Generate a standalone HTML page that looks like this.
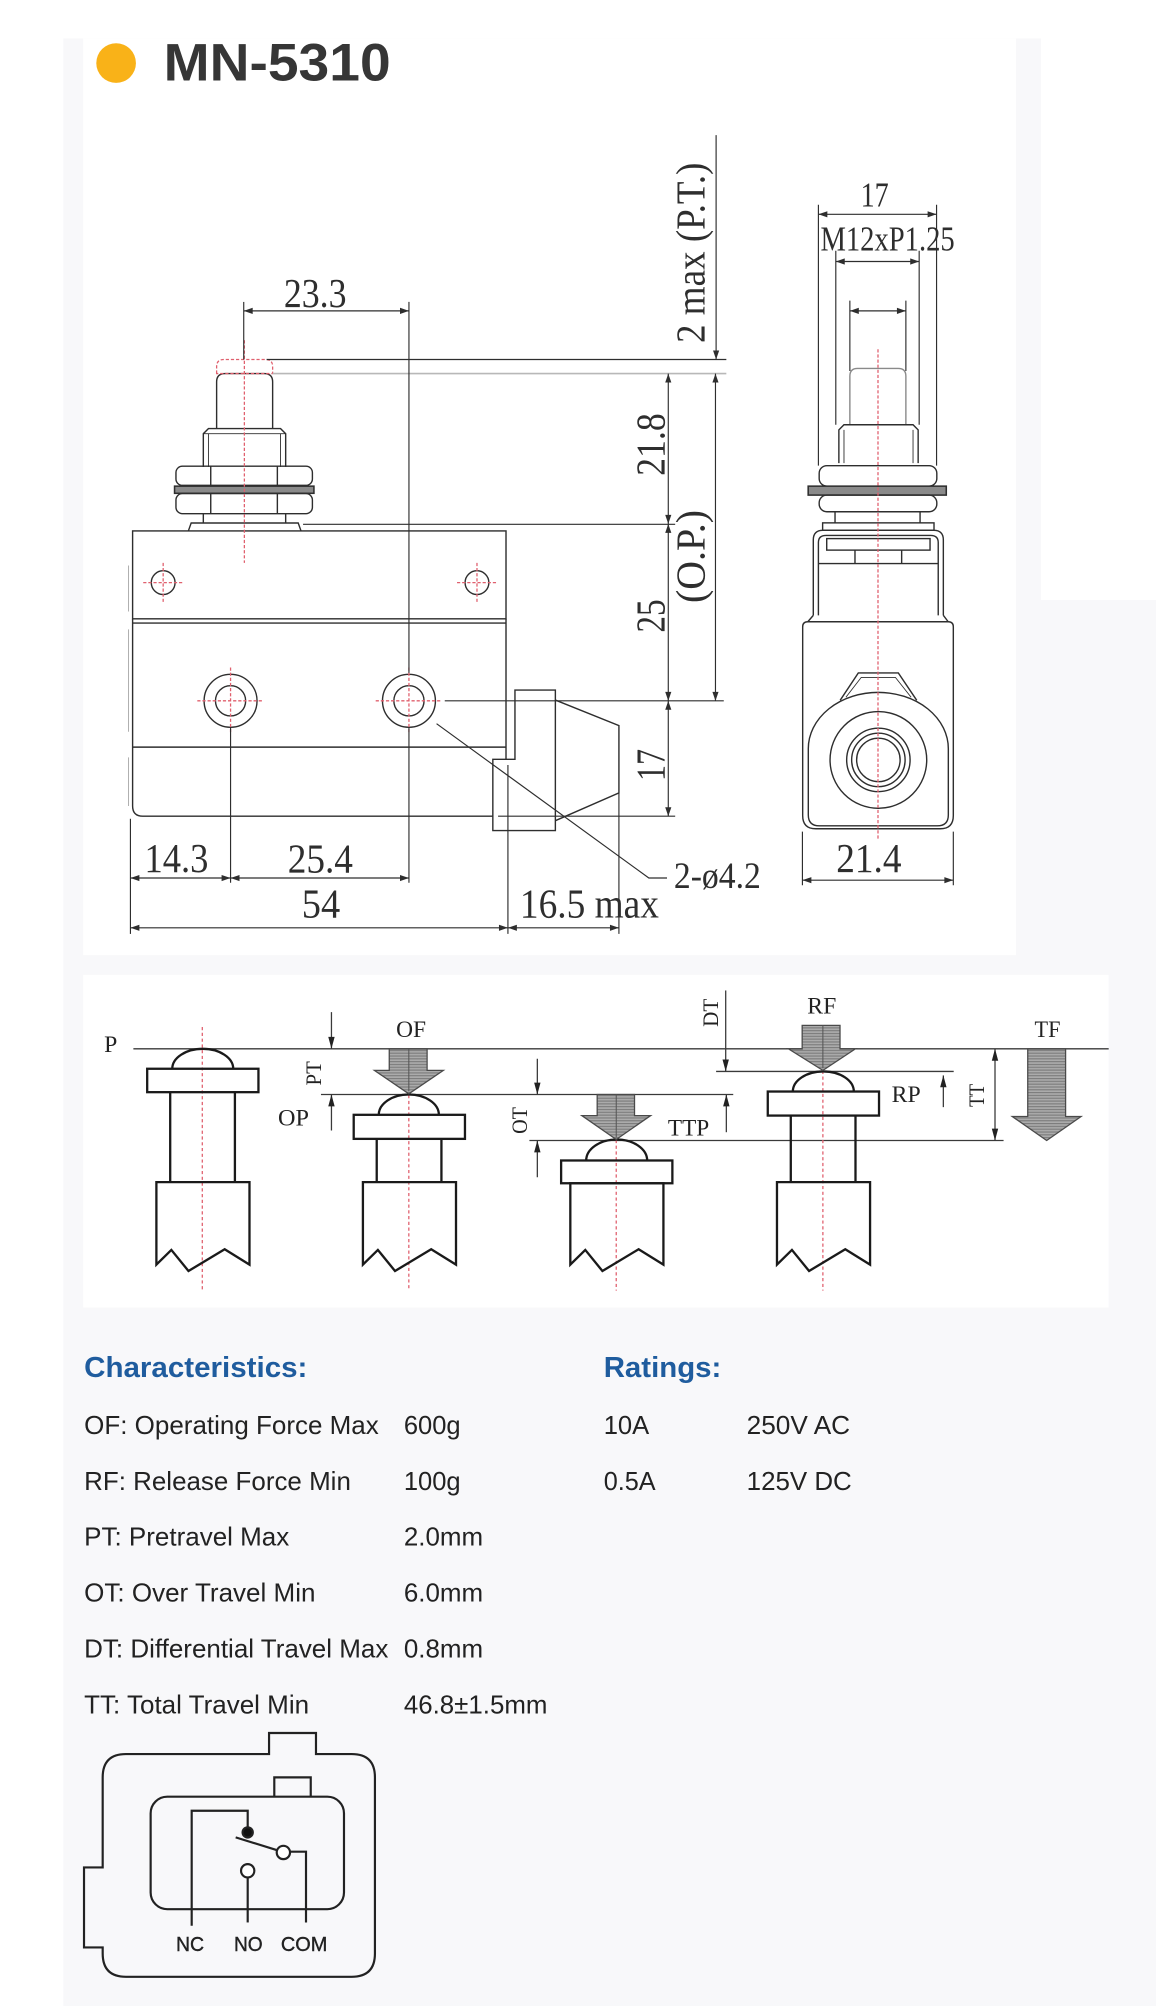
<!DOCTYPE html>
<html><head><meta charset="utf-8">
<style>
html,body{margin:0;padding:0;background:#fff;}
svg{display:block;}
</style></head>
<body>
<svg width="1156" height="2006" viewBox="0 0 904 1568" preserveAspectRatio="none" xmlns="http://www.w3.org/2000/svg">
<defs>
<pattern id="hatch" width="4" height="2.2" patternUnits="userSpaceOnUse">
<rect width="4" height="2.2" fill="#ababab"/>
<rect width="4" height="0.9" fill="#7c7c7c"/>
</pattern>
</defs>

<!-- backgrounds -->
<rect width="904" height="1568" fill="#fff"/>
<rect x="49.5" y="30" width="854.5" height="1538" fill="#f8f8fa"/>
<rect x="814" y="0" width="90" height="469" fill="#fff"/>
<rect x="65" y="30" width="729.5" height="716.6" fill="#fff"/>
<rect x="65" y="762" width="802" height="260" fill="#fff"/>

<!-- header -->
<circle cx="90.8" cy="49.3" r="15.5" fill="#f9b218"/>
<text x="128" y="62.8" font-family="Liberation Sans, Arial, sans-serif" font-weight="bold" font-size="41" fill="#363636" textLength="177.5" lengthAdjust="spacingAndGlyphs">MN-5310</text>

<!-- ============ MAIN FRONT VIEW ============ -->
<g stroke="#2e2e2e" stroke-width="1.1" fill="none">
  <!-- plunger -->
  <path d="M169.4,335 V298.5 Q169.4,292 176,292 H206.6 Q213.2,292 213.2,298.5 V335"/>
  <path d="M159,365 V339 L163,335 H219.4 L223.4,339 V365"/>
  <path d="M163,339 V365 M219.4,339 V365 M159,339 H223.4" stroke-width="0.7"/>
  <rect x="137.6" y="364.4" width="106.7" height="15" rx="5"/>
  <path d="M164.8,364.4 V379.3 M216.9,364.4 V379.3"/>
  <rect x="136.5" y="380" width="109" height="5.6" fill="#8a8a8a" stroke-width="1.2"/>
  <rect x="137.6" y="385.8" width="106.7" height="15.7" rx="5"/>
  <path d="M164.8,385.8 V401.5 M216.9,385.8 V401.5"/>
  <path d="M159,401.5 V408.8 M223.4,401.5 V408.8"/>
  <path d="M147.3,415 L149.5,408.8 H233.2 L235.4,415"/>

  <!-- body -->
  <rect x="103.7" y="415" width="292" height="68.7"/>
  <path d="M103.7,487 H395.7"/>
  <path d="M103.7,483.7 V630 Q103.7,638 111.7,638 H385.4"/>
  <path d="M103.7,584 H395.7"/>
  <path d="M395.7,483.7 V593.5"/>
  <path d="M100.5,442 V478 M100.5,492 V572 M100.5,592 V630" stroke="#b0b0b0" stroke-width="0.8"/>

  <!-- holes -->
  <circle cx="127.6" cy="455.4" r="9.3"/>
  <circle cx="373" cy="455.4" r="9.3"/>
  <circle cx="180.3" cy="547.8" r="20.7"/>
  <circle cx="180.3" cy="547.8" r="11.8"/>
  <circle cx="319.8" cy="547.8" r="20.7"/>
  <circle cx="319.8" cy="547.8" r="11.8"/>

  <!-- actuator -->
  <path d="M402.7,539.4 H434.3 V649.2 H385.4 V593.5 H402.7 Z"/>
  <path d="M434.3,547.2 L484,567.2 V619.8 L434.3,641.5"/>

  <!-- leader -->
  <path d="M341.4,565.7 L507.4,686.3 H521.6" stroke-width="0.9"/>
</g>

<!-- red center lines main -->
<g stroke="#e0606e" stroke-width="1" fill="none" stroke-dasharray="2.5 1.5">
  <path d="M169.4,292 V286.5 Q169.4,281 175,281 H207.6 Q213.2,281 213.2,286.5 V292 Z"/>
  <path d="M191.1,266 V440"/>
  <path d="M112,455.4 H143.2 M127.6,440 V471"/>
  <path d="M357.4,455.4 H388.6 M373,440 V471"/>
  <path d="M154.3,547.8 H206.3 M180.3,521.8 V573.8"/>
  <path d="M293.8,547.8 H345.8 M319.8,521.8 V573.8"/>
</g>

<!-- extension & dimension lines main -->
<g stroke="#2e2e2e" stroke-width="0.9" fill="none">
  <path d="M208.5,281 H568"/>
  <path d="M213.2,292 H568" stroke="#b8b8b8" stroke-width="1.3"/>
  <path d="M237,409.8 H528"/>
  <path d="M347.8,547.8 H566"/>
  <path d="M389.5,638 H528"/>
  <path d="M190.6,236 V281"/>
  <path d="M319.8,236 V526 M319.8,569 V690"/>
  <path d="M190.6,243 H319.8"/>
  <path d="M560,105.6 V281"/>
  <path d="M522.6,292 V638"/>
  <path d="M559.5,292 V547.8"/>
  <path d="M102,640 V730"/>
  <path d="M180.3,569 V690"/>
  <path d="M397.2,598 V730"/>
  <path d="M484,620 V730"/>
  <path d="M102,686.3 H319.8"/>
  <path d="M102,725.2 H484"/>
</g>
<g fill="#2e2e2e">
  <polygon points="190.6,243 197.6,240.6 197.6,245.4"/>
  <polygon points="319.8,243 312.8,240.6 312.8,245.4"/>
  <polygon points="560,281 557.6,274 562.4,274"/>
  <polygon points="522.6,292 520.2,299 525,299"/>
  <polygon points="522.6,409.5 520.2,402.5 525,402.5"/>
  <polygon points="522.6,409.5 520.2,416.5 525,416.5"/>
  <polygon points="522.6,547.8 520.2,540.8 525,540.8"/>
  <polygon points="522.6,547.8 520.2,554.8 525,554.8"/>
  <polygon points="522.6,638 520.2,631 525,631"/>
  <polygon points="559.5,292 557.1,299 561.9,299"/>
  <polygon points="559.5,547.8 557.1,540.8 561.9,540.8"/>
  <polygon points="102,686.3 109,683.9 109,688.7"/>
  <polygon points="180.3,686.3 173.3,683.9 173.3,688.7"/>
  <polygon points="180.3,686.3 187.3,683.9 187.3,688.7"/>
  <polygon points="319.8,686.3 312.8,683.9 312.8,688.7"/>
  <polygon points="102,725.2 109,722.8 109,727.6"/>
  <polygon points="397.2,725.2 390.2,722.8 390.2,727.6"/>
  <polygon points="397.2,725.2 404.2,722.8 404.2,727.6"/>
  <polygon points="484,725.2 477,722.8 477,727.6"/>
</g>

<!-- main dim texts -->
<g font-family="Liberation Serif, Times New Roman, serif" font-size="32" fill="#2e2e2e">
  <text x="222" y="240" textLength="49" lengthAdjust="spacingAndGlyphs">23.3</text>
  <text x="113" y="681.7" textLength="50" lengthAdjust="spacingAndGlyphs">14.3</text>
  <text x="225" y="682" textLength="51" lengthAdjust="spacingAndGlyphs">25.4</text>
  <text x="236" y="717" textLength="30" lengthAdjust="spacingAndGlyphs">54</text>
  <text x="406.6" y="717" textLength="108.7" lengthAdjust="spacingAndGlyphs">16.5 max</text>
  <text x="527" y="694" font-size="29" textLength="68" lengthAdjust="spacingAndGlyphs">2-ø4.2</text>
  <text transform="translate(519.5,347.5) rotate(-90)" text-anchor="middle" textLength="49" lengthAdjust="spacingAndGlyphs">21.8</text>
  <text transform="translate(519.5,481.5) rotate(-90)" text-anchor="middle" textLength="26" lengthAdjust="spacingAndGlyphs">25</text>
  <text transform="translate(519.5,598) rotate(-90)" text-anchor="middle" textLength="25" lengthAdjust="spacingAndGlyphs">17</text>
  <text transform="translate(551,435) rotate(-90)" text-anchor="middle" textLength="72.7" lengthAdjust="spacingAndGlyphs">(O.P.)</text>
  <text transform="translate(551,197.6) rotate(-90)" text-anchor="middle" textLength="141" lengthAdjust="spacingAndGlyphs">2 max (P.T.)</text>
</g>

<!-- ============ SIDE VIEW ============ -->
<g stroke="#2e2e2e" stroke-width="1.1" fill="none">
  <path d="M664.6,332 V294 Q664.6,288 670.6,288 H702.4 Q708.4,288 708.4,294 V332" stroke="#8a8a8a"/>
  <path d="M656,362 V336 L660,332 H714 L718,336 V362"/>
  <path d="M660,336 V362 M714,336 V362" stroke-width="0.7"/>
  <rect x="640.6" y="364" width="92" height="16" rx="6"/>
  <rect x="632" y="380" width="108" height="7" fill="#8a8a8a" stroke-width="1.2"/>
  <rect x="640.6" y="387" width="92" height="13" rx="6"/>
  <path d="M653,400 V408.7 M719.5,400 V408.7"/>
  <rect x="643.3" y="408.7" width="87.1" height="5.8"/>
  <path d="M636,481 V422 Q636,414.5 643.5,414.5 H730.2 Q737.7,414.5 737.7,422 V481"/>
  <path d="M640,481 V424 Q640,418.5 646,418.5 H727.7 Q733.7,418.5 733.7,424 V481"/>
  <rect x="646.5" y="421" width="80.8" height="9"/>
  <path d="M640,440.5 H733.7 M668.6,430 V440.5 M705.1,430 V440.5"/>
  <path d="M636,481 L631.7,486 M737.7,481 L741.5,486"/>
  <path d="M627.7,490 Q627.7,486 631.7,486 H741.5 Q745.5,486 745.5,490 V637.5 Q745.5,647.8 735.2,647.8 H638 Q627.7,647.8 627.7,637.5 Z"/>
  <path d="M632.1,585.2 A54.75,44 0 0 1 741.6,585.2 V637 Q741.6,645.5 733,645.5 H640.7 Q632.1,645.5 632.1,637 Z"/>
  <path d="M657,547.4 L671.2,526 H702.5 L716.9,547.4"/>
  <path d="M661.5,545 L673.5,529.5 H700.2 L712.5,545" stroke-width="0.7"/>
  <circle cx="686.9" cy="594" r="37.8"/>
  <circle cx="686.9" cy="594" r="24.8"/>
  <circle cx="686.9" cy="594" r="20.9"/>
  <circle cx="686.9" cy="594" r="17"/>
</g>
<path d="M686.6,273 V657" stroke="#e0606e" stroke-width="1" stroke-dasharray="2.5 1.5" fill="none"/>
<g stroke="#2e2e2e" stroke-width="0.9" fill="none">
  <path d="M640,160 V364 M732.4,160 V364"/>
  <path d="M653.6,196 V332 M718.8,196 V332"/>
  <path d="M664.6,235 V290 M708.4,235 V290"/>
  <path d="M640,167.5 H732.4"/>
  <path d="M653.6,204.4 H718.8"/>
  <path d="M664.6,243 H708.4"/>
  <path d="M627.5,650 V692 M745.5,650 V692"/>
  <path d="M627.5,688 H745.5"/>
</g>
<g fill="#2e2e2e">
  <polygon points="640,167.5 647,165.1 647,169.9"/>
  <polygon points="732.4,167.5 725.4,165.1 725.4,169.9"/>
  <polygon points="653.6,204.4 660.6,202 660.6,206.8"/>
  <polygon points="718.8,204.4 711.8,202 711.8,206.8"/>
  <polygon points="664.6,243 671.6,240.6 671.6,245.4"/>
  <polygon points="708.4,243 701.4,240.6 701.4,245.4"/>
  <polygon points="627.5,688 634.5,685.6 634.5,690.4"/>
  <polygon points="745.5,688 738.5,685.6 738.5,690.4"/>
</g>
<g font-family="Liberation Serif, Times New Roman, serif" fill="#2e2e2e">
  <text x="684" y="161.6" font-size="27" text-anchor="middle" textLength="22" lengthAdjust="spacingAndGlyphs">17</text>
  <text x="641.6" y="196" font-size="27" textLength="105" lengthAdjust="spacingAndGlyphs">M12xP1.25</text>
  <text x="654" y="681.5" font-size="32" textLength="51" lengthAdjust="spacingAndGlyphs">21.4</text>
</g>

<!-- ============ TRAVEL DIAGRAM ============ -->
<g stroke="#3a3a3a" stroke-width="1" fill="none">
  <path d="M104.3,819.8 H867"/>
  <path d="M251,855.5 H573.4"/>
  <path d="M414,891.5 H784.8"/>
  <path d="M560,837.5 H745.8"/>
  <path d="M259.2,791.1 V819.8 M259.2,855.5 V883.7"/>
  <path d="M420.2,827.6 V855.5 M420.2,891.5 V920.2"/>
  <path d="M568,855.5 V885"/>
  <path d="M567.5,774.2 V837.5"/>
  <path d="M737.7,840.6 V865.4"/>
  <path d="M778.1,819.8 V891.5"/>
</g>
<g fill="#222">
  <polygon points="259.2,819.8 256.7,810.5 261.7,810.5"/>
  <polygon points="259.2,855.5 256.7,864.8 261.7,864.8"/>
  <polygon points="420.2,855.5 417.7,846.2 422.7,846.2"/>
  <polygon points="420.2,891.5 417.7,900.8 422.7,900.8"/>
  <polygon points="568,855.5 565.5,864.8 570.5,864.8"/>
  <polygon points="567.5,837.5 565,828.2 570,828.2"/>
  <polygon points="737.7,840.6 735.2,849.9 740.2,849.9"/>
  <polygon points="778.1,819.8 775.6,829.1 780.6,829.1"/>
  <polygon points="778.1,891.5 775.6,882.2 780.6,882.2"/>
</g>

<!-- red center lines travel -->
<g stroke="#e0606e" stroke-width="1" stroke-dasharray="2.5 2" fill="none">
  <path d="M158.2,802.8 V1008.8"/>
  <path d="M319.7,856 V1008.8"/>
  <path d="M481.9,891 V1008.8"/>
  <path d="M643.5,837 V1008.8"/>
</g>

<g stroke="#1a1a1a" stroke-width="1.8" fill="none" stroke-linejoin="miter">
  <!-- P1 -->
  <path d="M134.7,835.4 A23.85,15.6 0 0 1 182.4,835.4"/>
  <rect x="115.1" y="835.4" width="87" height="18.3"/>
  <path d="M133.1,853.7 V924 M183.7,853.7 V924"/>
  <path d="M122.3,924 H195.1 V988.5 L175.7,976.5 L147.4,993.5 L134,977 L122.3,988.5 Z"/>
  <!-- P2 -->
  <path d="M296.2,871.4 A23.5,15.9 0 0 1 343.2,871.4"/>
  <rect x="276.6" y="871.4" width="87" height="18.8"/>
  <path d="M294.6,890.2 V924 M345.2,890.2 V924"/>
  <path d="M283.8,924 H356.6 V988.5 L337.2,976.5 L308.9,993.5 L295.5,977 L283.8,988.5 Z"/>
  <!-- P3 -->
  <path d="M458.4,907.1 A23.85,16.4 0 0 1 506.1,907.1"/>
  <rect x="438.8" y="907.1" width="87" height="17.8"/>
  <path d="M446,924.9 H518.8 V988.5 L499.4,976.5 L471.1,993.5 L457.7,977 L446,988.5 Z"/>
  <!-- P4 -->
  <path d="M620,853.2 A23.85,15.7 0 0 1 667.7,853.2"/>
  <rect x="600.4" y="853.2" width="87" height="18.8"/>
  <path d="M618.4,872 V924 M669,872 V924"/>
  <path d="M607.6,924 H680.4 V988.5 L661,976.5 L632.7,993.5 L619.3,977 L607.6,988.5 Z"/>
</g>

<!-- force arrows -->
<g stroke="#4a4a4a" stroke-width="1" fill="url(#hatch)">
  <path d="M304.4,819.8 H334 V836.7 H346.7 L319.7,855 L292.8,836.7 H304.4 Z"/>
  <path d="M467,855.5 H496.2 V872 H508.8 L481.9,890.7 L455,872 H467 Z"/>
  <path d="M627.3,801.5 H656.9 V819.8 H669 L643.5,836.7 L616.5,819.8 H627.3 Z"/>
  <path d="M803.7,819.8 H833.3 V872.7 H845.4 L818.5,891.5 L791.6,872.7 H803.7 Z"/>
</g>
<g stroke="#555" stroke-width="0.8" fill="none">
  <path d="M319.7,819.8 V853"/>
  <path d="M481.9,855.5 V889"/>
  <path d="M643.5,801.5 V835"/>
</g>

<!-- travel labels -->
<g font-family="Liberation Serif, Times New Roman, serif" font-size="18.5" fill="#222">
  <text x="81.4" y="822.4">P</text>
  <text x="309.8" y="810.6" textLength="23.4" lengthAdjust="spacingAndGlyphs">OF</text>
  <text x="217.4" y="879.8" textLength="24.2" lengthAdjust="spacingAndGlyphs">OP</text>
  <text x="522.3" y="887.6" textLength="32.3" lengthAdjust="spacingAndGlyphs">TTP</text>
  <text x="631.3" y="792.4" textLength="22.7" lengthAdjust="spacingAndGlyphs">RF</text>
  <text x="697.3" y="861.5" textLength="22.7" lengthAdjust="spacingAndGlyphs">RP</text>
  <text x="809" y="810.7" textLength="20.3" lengthAdjust="spacingAndGlyphs">TF</text>
  <text transform="translate(251,839) rotate(-90)" text-anchor="middle" font-size="17" textLength="19" lengthAdjust="spacingAndGlyphs">PT</text>
  <text transform="translate(412,875.8) rotate(-90)" text-anchor="middle" font-size="17" textLength="21" lengthAdjust="spacingAndGlyphs">OT</text>
  <text transform="translate(561.5,791.7) rotate(-90)" text-anchor="middle" font-size="17" textLength="22" lengthAdjust="spacingAndGlyphs">DT</text>
  <text transform="translate(769.5,856.3) rotate(-90)" text-anchor="middle" font-size="17" textLength="18" lengthAdjust="spacingAndGlyphs">TT</text>
</g>

<!-- ============ TEXT TABLES ============ -->
<g font-family="Liberation Sans, Arial, sans-serif">
  <text x="65.8" y="1076.5" font-size="22.5" font-weight="bold" fill="#1f5c9e" textLength="174.6" lengthAdjust="spacingAndGlyphs">Characteristics:</text>
  <text x="472.1" y="1076.5" font-size="22.5" font-weight="bold" fill="#1f5c9e" textLength="92" lengthAdjust="spacingAndGlyphs">Ratings:</text>
</g>
<g font-family="Liberation Sans, Arial, sans-serif" font-size="20" fill="#222">
  <text x="65.8" y="1120.8" textLength="230.4" lengthAdjust="spacingAndGlyphs">OF: Operating Force Max</text>
  <text x="65.8" y="1164.6" textLength="208.6" lengthAdjust="spacingAndGlyphs">RF: Release Force Min</text>
  <text x="65.8" y="1208.2" textLength="160.4" lengthAdjust="spacingAndGlyphs">PT: Pretravel Max</text>
  <text x="65.8" y="1251.7" textLength="180.9" lengthAdjust="spacingAndGlyphs">OT: Over Travel Min</text>
  <text x="65.8" y="1295.5" textLength="237.9" lengthAdjust="spacingAndGlyphs">DT: Differential Travel Max</text>
  <text x="65.8" y="1339.3" textLength="175.9" lengthAdjust="spacingAndGlyphs">TT: Total Travel Min</text>

  <text x="315.8" y="1120.8" textLength="44.4" lengthAdjust="spacingAndGlyphs">600g</text>
  <text x="315.8" y="1164.6" textLength="44.4" lengthAdjust="spacingAndGlyphs">100g</text>
  <text x="315.8" y="1208.2" textLength="62" lengthAdjust="spacingAndGlyphs">2.0mm</text>
  <text x="315.8" y="1251.7" textLength="62" lengthAdjust="spacingAndGlyphs">6.0mm</text>
  <text x="315.8" y="1295.5" textLength="62" lengthAdjust="spacingAndGlyphs">0.8mm</text>
  <text x="315.8" y="1339.3" textLength="112.3" lengthAdjust="spacingAndGlyphs">46.8±1.5mm</text>

  <text x="472.1" y="1120.8" textLength="35.6" lengthAdjust="spacingAndGlyphs">10A</text>
  <text x="583.9" y="1120.8" textLength="80.9" lengthAdjust="spacingAndGlyphs">250V AC</text>
  <text x="472.1" y="1164.6" textLength="40.6" lengthAdjust="spacingAndGlyphs">0.5A</text>
  <text x="583.9" y="1164.6" textLength="82.2" lengthAdjust="spacingAndGlyphs">125V DC</text>
</g>

<!-- ============ CIRCUIT ============ -->
<g stroke="#222" stroke-width="1.7" fill="none">
  <path d="M98.5,1371.1 H210.4 V1354.6 H247.1 V1371.1 H275 Q293.2,1371.1 293.2,1389.3 V1527 Q293.2,1545.2 275,1545.2 H98.5 Q80.3,1545.2 80.3,1527 V1522.2 H65.7 V1459.7 H80.3 V1389.3 Q80.3,1371.1 98.5,1371.1 Z"/>
  <rect x="117.8" y="1404.4" width="151.2" height="87.9" rx="13"/>
  <path d="M214.5,1404.4 V1389.3 H243 V1404.4"/>
  <path d="M149.9,1505.3 V1415.4 H193.7 V1430"/>
  <path d="M184.3,1436.2 L217,1446.3"/>
  <path d="M226.8,1447.4 H239.3 V1502.7"/>
  <path d="M193.7,1467.5 V1502.7"/>
  <circle cx="193.7" cy="1432.3" r="4" fill="#111"/>
  <circle cx="221.6" cy="1448" r="5.2" fill="#fff"/>
  <circle cx="193.7" cy="1462.3" r="5.2" fill="#fff"/>
</g>
<g font-family="Liberation Sans, Arial, sans-serif" font-size="16" fill="#222" stroke="#222" stroke-width="0.3">
  <text x="137.6" y="1525" textLength="22" lengthAdjust="spacingAndGlyphs">NC</text>
  <text x="183" y="1525" textLength="22.4" lengthAdjust="spacingAndGlyphs">NO</text>
  <text x="219.7" y="1525" textLength="36.3" lengthAdjust="spacingAndGlyphs">COM</text>
</g>
</svg>
</body>
</html>
